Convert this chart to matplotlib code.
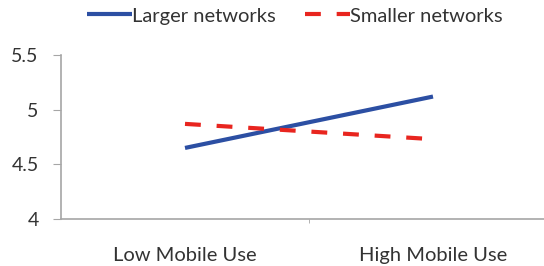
import matplotlib.pyplot as plt

categories = ['Low Mobile Use', 'High Mobile Use']
larger = [4.65, 5.12]
smaller = [4.87, 4.73]
yticks = [4, 4.5, 5, 5.5]
ytick_labels = ['4', '4.5', '5', '5.5']

plt.rcParams['font.family'] = ['Lato', 'DejaVu Sans']
txt = '#333333'

fig = plt.figure(figsize=(5.44, 2.66), dpi=100)
# axes runs a bit past the right edge, as in the cropped original
ax = fig.add_axes([61 / 544, 1 - 219 / 266, 496 / 544, 164 / 266])

x = [0, 1]
ax.plot(x, larger, color='#2C4FA3', lw=3, solid_capstyle='butt', label='Larger networks')
ax.plot(x, smaller, color='#E8251F', lw=3, dashes=(3.8, 3.8), dash_capstyle='butt',
        label='Smaller networks')

ax.set_xlim(-0.5, 1.5)
ax.set_ylim(4, 5.5)
ax.set_yticks(yticks)
ax.set_yticklabels(ytick_labels)
ax.set_xticks(x)
ax.set_xticklabels(categories)
ax.set_xticks([0.5], minor=True)

for s in ['top', 'right']:
    ax.spines[s].set_visible(False)
for s in ['left', 'bottom']:
    ax.spines[s].set_color('#A6A6A6')
    ax.spines[s].set_linewidth(1.2)

ax.tick_params(axis='y', length=6, color='#A6A6A6', labelsize=14, labelcolor=txt, pad=10)
ax.tick_params(axis='x', which='major', length=0, labelsize=14.5, labelcolor=txt, pad=20)
ax.tick_params(axis='x', which='minor', length=3, color='#A6A6A6')

fig.legend(loc='center', bbox_to_anchor=(0.542, 1 - 16 / 266), ncol=2, frameon=False,
           fontsize=14.5, handlelength=2.25, handletextpad=0.0, columnspacing=1.45,
           labelcolor=txt)

fig.savefig('out.png', dpi=100)
